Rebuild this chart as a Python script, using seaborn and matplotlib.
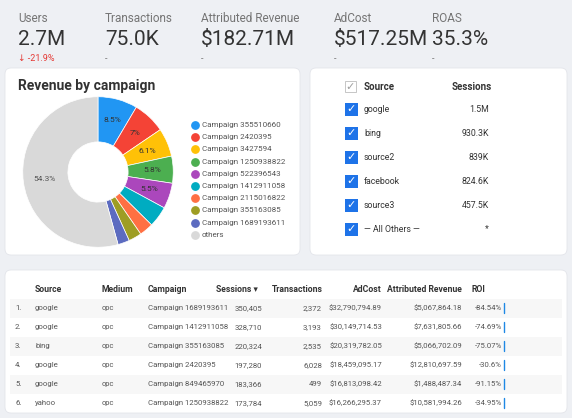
import matplotlib
matplotlib.use("Agg")
import matplotlib.pyplot as plt
import seaborn as sns
import numpy as np
from matplotlib.patches import FancyBboxPatch, Rectangle

# KPI scorecards
kpi_labels = ["Users", "Transactions", "Attributed Revenue", "AdCost", "ROAS"]
kpi_values = ["2.7M", "75.0K", "$182.71M", "$517.25M", "35.3%"]
kpi_deltas = ["↓ -21.9%", "-", "-", "-", "-"]

# pie
campaigns = ["Campaign 355510660", "Campaign 2420395", "Campaign 3427594", "Campaign 1250938822",
             "Campaign 522396543", "Campaign 1412911058", "Campaign 2115016822", "Campaign 355163085",
             "Campaign 1689193611", "others"]
revenue_share = [8.5, 7.0, 6.1, 5.8, 5.5, 4.5, 3.0, 2.8, 2.5, 54.3]
pie_colors = ["#2196f3", "#f44336", "#ffc107", "#4caf50", "#ab47bc", "#00acc1",
              "#ff7043", "#9e9d24", "#5c6bc0", "#d9d9d9"]

# source list
sources = ["google", "bing", "source2", "facebook", "source3", "— All Others —"]
source_sessions = ["1.5M", "930.3K", "839K", "824.6K", "457.5K", "*"]

# table
tbl_source = ["google", "google", "bing", "google", "google", "yahoo"]
tbl_medium = ["cpc"] * 6
tbl_campaign = ["Campaign 1689193611", "Campaign 1412911058", "Campaign 355163085",
                "Campaign 2420395", "Campaign 849465970", "Campaign 1250938822"]
tbl_sessions = ["350,405", "328,710", "220,324", "197,280", "183,366", "173,784"]
tbl_trans = ["2,372", "3,193", "2,535", "6,028", "499", "5,059"]
tbl_adcost = ["$32,790,794.89", "$30,149,714.53", "$20,319,782.05", "$18,459,095.17",
              "$16,813,098.42", "$16,266,295.37"]
tbl_rev = ["$5,067,864.18", "$7,631,805.66", "$5,066,702.09", "$12,810,697.59",
           "$1,488,487.34", "$10,581,994.26"]
tbl_roi = ["-84.54%", "-74.69%", "-75.07%", "-30.6%", "-91.15%", "-34.95%"]

sns.set_theme(style="white")
plt.rcParams['font.family'] = ['Roboto', 'DejaVu Sans']

fig = plt.figure(figsize=(5.72, 4.18), dpi=100)
fig.patch.set_facecolor("#eef0f4")
ax = fig.add_axes([0, 0, 1, 1])
ax.set_xlim(0, 572)
ax.set_ylim(418, 0)
ax.axis("off")

def card(x, y, w, h):
    ax.add_patch(FancyBboxPatch((x, y), w, h, boxstyle="round,pad=0,rounding_size=6",
                                fc="white", ec="#e3e5ea", lw=0.6))

card(5, 68, 295, 187)
card(310, 68, 257, 187)
card(5, 270, 562, 143)

dark = "#333333"
grey = "#757575"
kx = [18, 105, 201, 334, 432]
for x, lab, val, d in zip(kx, kpi_labels, kpi_values, kpi_deltas):
    ax.text(x, 25, lab, fontsize=8.5, color=grey, va="bottom")
    ax.text(x, 49, val, fontsize=15, color=dark, va="bottom")
    ax.text(x, 63, d, fontsize=6.5, color="#e53935" if d != "-" else grey, va="bottom")

# pie
ax.text(18, 93, "Revenue by campaign", fontsize=10, fontweight="bold", color=dark, va="bottom")
pax = fig.add_axes([22 / 572, 1 - 248 / 418, 152 / 572, 152 / 418])
wedges, _ = pax.pie(revenue_share, colors=pie_colors, startangle=90, counterclock=False,
                    wedgeprops=dict(width=0.6, edgecolor="white", linewidth=0.5))
for w, v in zip(wedges, revenue_share):
    if v >= 5:
        a = np.deg2rad((w.theta1 + w.theta2) / 2)
        r = 0.72
        pax.text(r * np.cos(a), r * np.sin(a), f"{v:g}%", ha="center", va="center",
                 fontsize=6, color="#555555" if v > 50 else dark)
pax.set_xlim(-1.01, 1.01)
pax.set_ylim(-1.01, 1.01)
pax.set_aspect("equal")
for i, (c, col) in enumerate(zip(campaigns, pie_colors)):
    y = 125 + i * 12.2
    ax.scatter(195, y, s=28, color=col)
    ax.text(202, y, c, fontsize=5.8, color="#555555", va="center")

# source list
ax.text(350.5, 87, "✓", fontsize=8, color="#9e9e9e", va="center", ha="center", family="DejaVu Sans")
ax.add_patch(Rectangle((345, 81), 11, 11, fill=False, ec="#bdbdbd", lw=0.6))
ax.text(364, 87, "Source", fontsize=7, fontweight="bold", color=dark, va="center")
ax.text(452, 87, "Sessions", fontsize=7, fontweight="bold", color=dark, va="center")
for i, (s, v) in enumerate(zip(sources, source_sessions)):
    y = 109 + i * 24
    ax.add_patch(Rectangle((345, y - 6.5), 13, 13, fc="#1e73e8", ec="none"))
    ax.text(351.5, y, "✓", fontsize=8, color="white", ha="center", va="center", family="DejaVu Sans")
    ax.text(364, y, s, fontsize=6.3, color=dark, va="center")
    ax.text(489, y, v, fontsize=6.3, color=dark, va="center", ha="right")

# table
hy = 290
hk = dict(fontsize=6.2, fontweight="bold", color=dark, va="center")
ax.text(35, hy, "Source", **hk)
ax.text(102, hy, "Medium", **hk)
ax.text(148, hy, "Campaign", **hk)
ax.text(216, hy, "Sessions ▾", **hk)
ax.text(323, hy, "Transactions", ha="right", **hk)
ax.text(382, hy, "AdCost", ha="right", **hk)
ax.text(462, hy, "Attributed Revenue", ha="right", **hk)
ax.text(471, hy, "ROI", **hk)
for i in range(6):
    y = 308 + i * 19
    if i % 2 == 0:
        ax.add_patch(Rectangle((10, y - 9.5), 552, 19, fc="#f7f7f7", ec="none"))
    kw = dict(fontsize=5.6, color="#555555", va="center")
    ax.text(15, y, f"{i + 1}.", **kw)
    ax.text(35, y, tbl_source[i], **kw)
    ax.text(102, y, tbl_medium[i], **kw)
    ax.text(148, y, tbl_campaign[i], **kw)
    ax.text(262, y, tbl_sessions[i], ha="right", **kw)
    ax.text(322, y, tbl_trans[i], ha="right", **kw)
    ax.text(382, y, tbl_adcost[i], ha="right", **kw)
    ax.text(462, y, tbl_rev[i], ha="right", **kw)
    ax.text(502, y, tbl_roi[i], ha="right", **kw)
    ax.plot([504, 504], [y - 5, y + 5], color="#1e88e5", lw=1)

fig.savefig("out.png", dpi=100, facecolor=fig.get_facecolor())
